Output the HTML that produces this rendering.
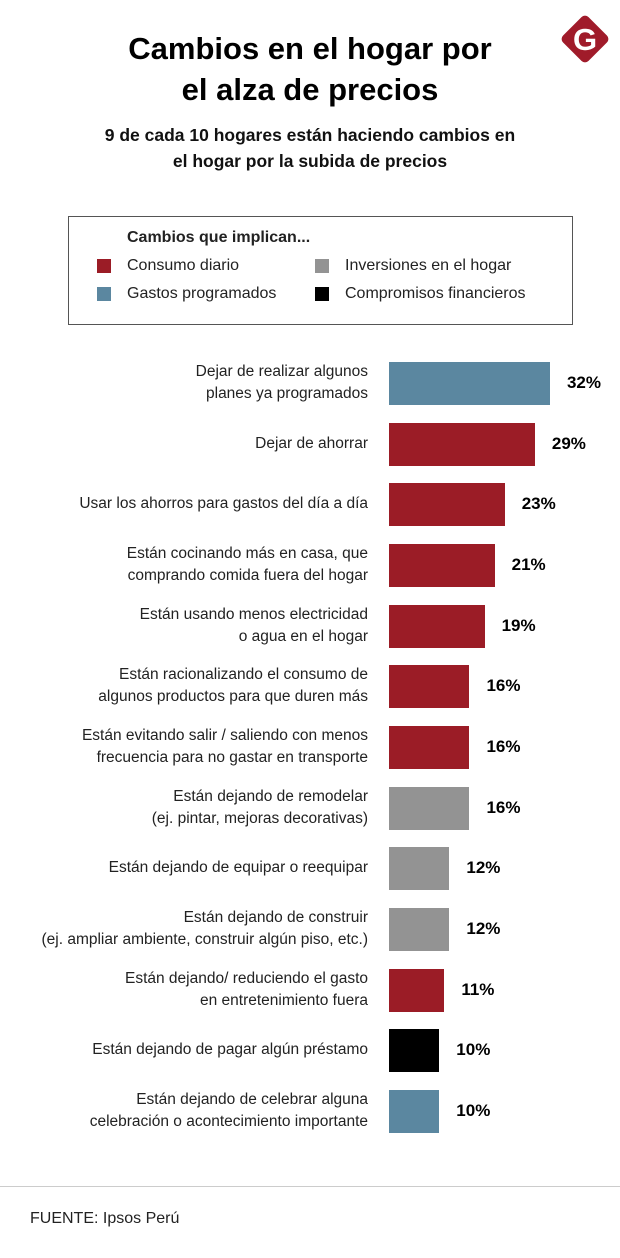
<!DOCTYPE html>
<html><head><meta charset="utf-8"><style>
body{margin:0;width:620px;height:1258px;background:#fff;font-family:"Liberation Sans",sans-serif;position:relative;overflow:hidden;color:#111}
.abs{position:absolute}
h1{position:absolute;left:0;width:620px;top:28px;margin:0;text-align:center;font-size:31px;line-height:41px;font-weight:bold;color:#000}
.sub{left:0;width:620px;top:122px;text-align:center;font-size:17.5px;line-height:26px;font-weight:bold}
.legend{left:68px;top:216px;width:505px;height:109px;border:1px solid #555;box-sizing:border-box}
.lg{font-size:16px;color:#222}
.sw{width:14px;height:14px;position:absolute}
.lbl{position:absolute;right:252px;text-align:right;font-size:15.5px;line-height:22px;color:#222}
.val{position:absolute;font-size:17px;font-weight:bold;color:#000}
</style></head><body>
<h1>Cambios en el hogar por<br>el alza de precios</h1>
<div class="abs sub">9 de cada 10 hogares están haciendo cambios en<br>el hogar por la subida de precios</div>
<svg class="abs" style="left:556px;top:10px" width="58" height="58"><rect x="11" y="11" width="36" height="36" rx="5" fill="#a01b2a" transform="rotate(45 29 29)"/><text x="29" y="40" text-anchor="middle" font-size="31" font-weight="bold" fill="#fff" font-family="Liberation Sans">G</text></svg>
<div class="abs legend">
<div class="abs lg" style="left:58px;top:12px;font-weight:bold">Cambios que implican...</div>
<div class="sw" style="left:28px;top:42px;background:#9b1c26"></div><div class="abs lg" style="left:58px;top:40px">Consumo diario</div>
<div class="sw" style="left:28px;top:70px;background:#5b87a0"></div><div class="abs lg" style="left:58px;top:68px">Gastos programados</div>
<div class="sw" style="left:246px;top:42px;background:#939393"></div><div class="abs lg" style="left:276px;top:40px">Inversiones en el hogar</div>
<div class="sw" style="left:246px;top:70px;background:#000"></div><div class="abs lg" style="left:276px;top:68px">Compromisos financieros</div>
</div>
<div id="chart"></div>
<div class="abs" style="left:0;top:1186px;width:620px;border-top:1px solid #ccc"></div>
<div class="abs" style="left:30px;top:1210px;font-size:16px;color:#222">FUENTE: Ipsos Perú</div>
<script>
const categories=["Dejar de realizar algunos<br>planes ya programados","Dejar de ahorrar","Usar los ahorros para gastos del día a día","Están cocinando más en casa, que<br>comprando comida fuera del hogar","Están usando menos electricidad<br>o agua en el hogar","Están racionalizando el consumo de<br>algunos productos para que duren más","Están evitando salir / saliendo con menos<br>frecuencia para no gastar en transporte","Están dejando de remodelar<br>(ej. pintar, mejoras decorativas)","Están dejando de equipar o reequipar","Están dejando de construir<br>(ej. ampliar ambiente, construir algún piso, etc.)","Están dejando/ reduciendo el gasto<br>en entretenimiento fuera","Están dejando de pagar algún préstamo","Están dejando de celebrar alguna<br>celebración o acontecimiento importante"];
const values=[32,29,23,21,19,16,16,16,12,12,11,10,10];
const groups=["g","c","c","c","c","c","c","i","i","i","c","f","g"];
const colors={c:"#9b1c26",g:"#5b87a0",i:"#939393",f:"#000"};
const x0=389,pxPer=5.03,y0=362,step=60.65,bh=43;
const xs=v=>v*pxPer, ys=i=>y0+i*step;
const ch=document.getElementById('chart');
values.forEach((v,i)=>{
 const b=document.createElement('div');
 
 
 b.style.cssText=`position:absolute;left:${x0}px;top:${ys(i)}px;width:${xs(v)}px;height:${bh}px;background:${colors[groups[i]]}`;
 ch.appendChild(b);
 const t=document.createElement('div');t.className='val';
 
 
 t.textContent=v+'%';
 t.style.left=(x0+xs(v)+17)+'px';t.style.top=(ys(i)+11)+'px';
 ch.appendChild(t);
 const l=document.createElement('div');l.className='lbl';
 
 
 l.innerHTML=categories[i];
 const two=categories[i].includes('<br>');
 l.style.top=(ys(i)+(two?-1:10))+'px';
 ch.appendChild(l);
});
</script>
</body></html>
